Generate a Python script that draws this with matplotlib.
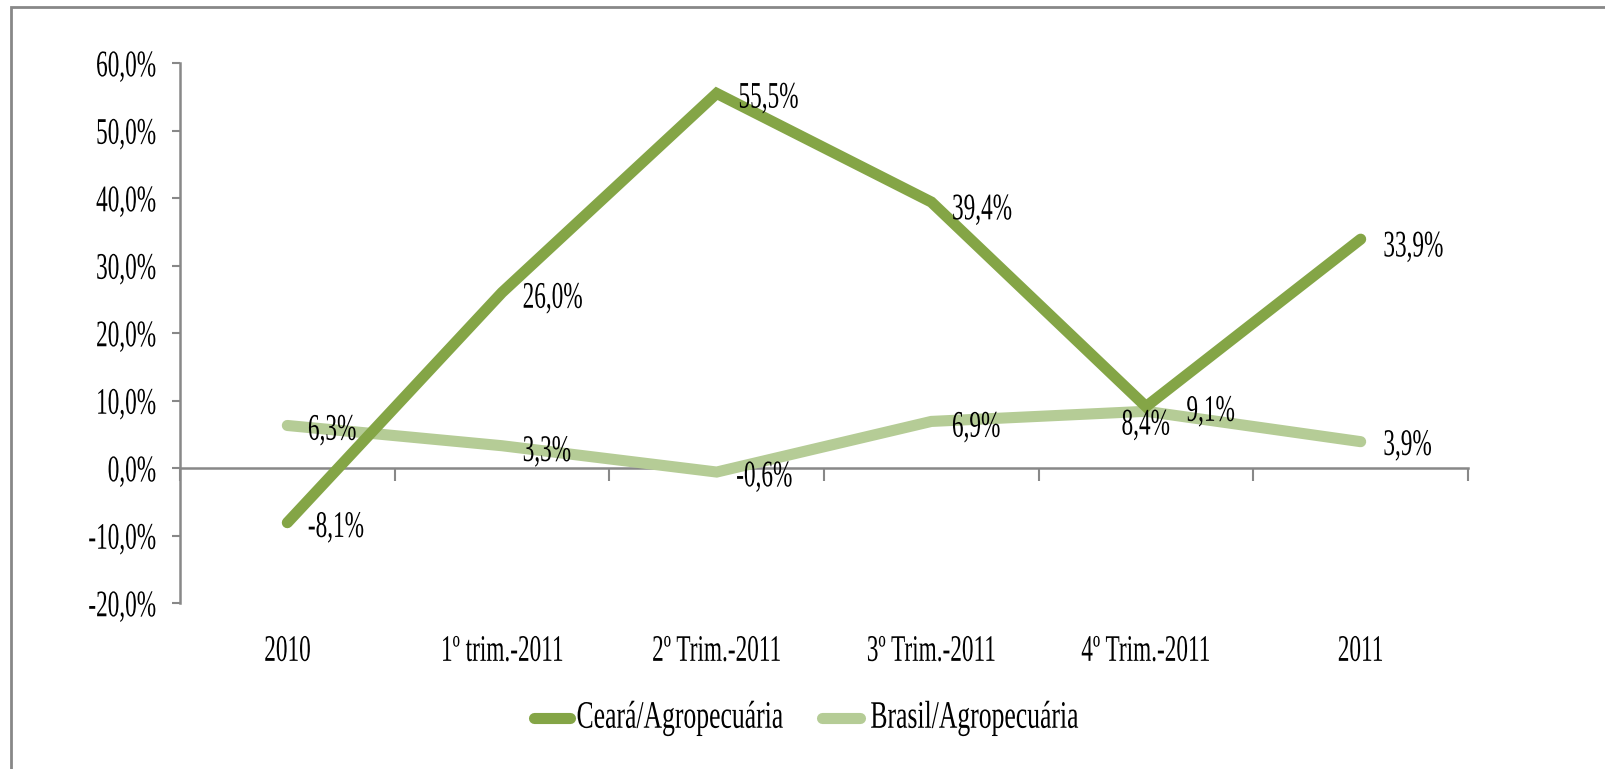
import matplotlib
matplotlib.use("Agg")
import matplotlib.pyplot as plt
from matplotlib.patches import Rectangle
from matplotlib.lines import Line2D
from matplotlib.patheffects import AbstractPathEffect
from matplotlib.transforms import Affine2D
import matplotlib.transforms as mtransforms

plt.rcParams['font.family'] = ['Liberation Serif', 'DejaVu Serif']

# data
categories = ['2010', '1º trim.-2011', '2º Trim.-2011', '3º Trim.-2011', '4º Trim.-2011', '2011']
ceara = [-8.1, 26.0, 55.5, 39.4, 9.1, 33.9]
brasil = [6.3, 3.3, -0.6, 6.9, 8.4, 3.9]
yticks = [-20, -10, 0, 10, 20, 30, 40, 50, 60]
series_names = ['Ceará/Agropecuária', 'Brasil/Agropecuária']

# label offsets in pixels (dx, dy)
ceara_off = [(20, -5), (20, -6), (21, -5), (20, -8), (40, -5), (22, -8)]
brasil_off = [(20, -5), (20, -6), (19, -5), (20, -6), (-25, -14), (22, -4)]

c_dark = '#84A546'
c_light = '#B5CC96'
grey = '#888888'
FS = 27
SQ = 0.62
LW = 8


class Squeeze(AbstractPathEffect):
    # narrow the glyphs horizontally (the original font is a condensed serif)
    def __init__(self, sx=SQ, anchor=0.0):
        super().__init__()
        self.sx = sx
        self.anchor = anchor

    def draw_path(self, renderer, gc, tpath, affine, rgbFace=None):
        ext = tpath.get_extents()
        x0 = ext.x0 + self.anchor * ext.width
        sq = Affine2D().translate(-x0, 0).scale(self.sx, 1).translate(x0, 0)
        renderer.draw_path(gc, tpath, sq + affine, rgbFace)


fig = plt.figure(figsize=(16.05, 7.69), dpi=100)
ax = fig.add_axes([180 / 1605, 1 - 603 / 769, 1288 / 1605, 540 / 769])

# outer frame (runs off right/bottom edge)
fig.patches.append(Rectangle((11 / 1605, -0.1), 1.2, 1 - 7 / 769 + 0.1,
                             transform=fig.transFigure, fill=False,
                             edgecolor=grey, lw=2))

x = list(range(len(categories)))
ax.plot(x, brasil, color=c_light, lw=LW, solid_capstyle='round',
        solid_joinstyle='miter', zorder=3)
ax.plot(x, ceara, color=c_dark, lw=LW, solid_capstyle='round',
        solid_joinstyle='miter', zorder=4)


def fmt(v):
    return ('%.1f%%' % v).replace('.', ',')


for vals, offs in ((ceara, ceara_off), (brasil, brasil_off)):
    for xi, v, (dx, dy) in zip(x, vals, offs):
        ax.annotate(fmt(v), (xi, v), xytext=(dx, dy), textcoords='offset pixels',
                    ha='left', va='center', fontsize=FS, zorder=5,
                    path_effects=[Squeeze(anchor=0.0)])

ax.set_xlim(-0.5, len(categories) - 0.5)
ax.set_ylim(-20, 60)
ax.set_yticks(yticks)
ax.set_yticklabels([fmt(float(t)) for t in yticks], fontsize=FS)
for t in ax.get_yticklabels():
    t.set_path_effects([Squeeze(anchor=1.0)])
ax.tick_params(axis='y', direction='out', length=6, width=1.5, color=grey, pad=11)

ax.spines['top'].set_visible(False)
ax.spines['right'].set_visible(False)
ax.spines['left'].set_color(grey)
ax.spines['left'].set_linewidth(1.8)
ax.spines['bottom'].set_position(('data', 0))
ax.spines['bottom'].set_color(grey)
ax.spines['bottom'].set_linewidth(1.8)
ax.set_xticks([i - 0.5 for i in range(len(categories) + 1)])
ax.set_xticklabels([])
ax.tick_params(axis='x', direction='out', length=9, width=1.5, color=grey)

trans = mtransforms.blended_transform_factory(ax.transData, ax.transAxes)
for xi, lab in zip(x, categories):
    ax.text(xi, -0.09, lab, transform=trans, ha='center', va='center', fontsize=FS,
            path_effects=[Squeeze(anchor=0.5)])

# legend drawn by hand so the condensed text keeps its spacing
ly = 1 - 718 / 769
for (x0, x1, tx), col, name in zip([(534, 570, 576), (822, 860, 870)],
                                   [c_dark, c_light], series_names):
    fig.add_artist(Line2D([x0 / 1605, x1 / 1605], [ly, ly], color=col, lw=LW,
                          solid_capstyle='round', transform=fig.transFigure))
    fig.text(tx / 1605, ly, name, ha='left', va='center', fontsize=28,
             path_effects=[Squeeze(sx=0.66, anchor=0.0)])

fig.savefig('out.png', dpi=100)
